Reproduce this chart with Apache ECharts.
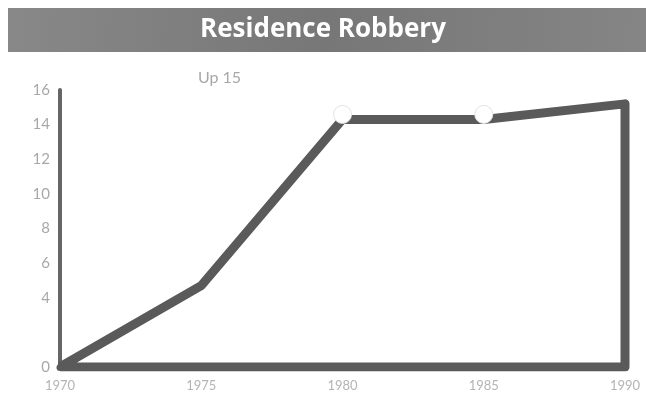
<!DOCTYPE html>
<html>
<head>
<meta charset="utf-8">
<title>Residence Robbery</title>
<script src="https://cdn.jsdelivr.net/npm/echarts@6/dist/echarts.min.js"></script>
<style>
  html, body { margin: 0; padding: 0; background: #fff; }
  #chart { width: 646px; height: 408px; }
</style>
</head>
<body>
<div id="chart"></div>
<script>
const years = [1970, 1975, 1980, 1985, 1990]
const robberies = [0, 4.7, 14.3, 14.3, 15.2]
const yearLabels = ['1970', '1975', '1980', '1985', '1990']
const yTicks = [0, 4, 6, 8, 10, 12, 14, 16] // 2 is not labelled in the original
const markedYears = [1980, 1985]

const lineColor = '#5a5a5a'

// outline: the curve, then down the right edge and back along the bottom
const outline = years.map((y, i) => {
  const point = { value: [y, robberies[i]] }
  if (markedYears.indexOf(y) === -1) {
    point.symbolSize = 0
  }
  return point
})
outline.push({ value: [years[years.length - 1], 0], symbolSize: 0 })
outline.push({ value: [years[0], 0], symbolSize: 0 })

const chart = echarts.init(document.getElementById('chart'))
chart.setOption({
  animation: false,
  graphic: [
    {
      type: 'rect',
      left: 8,
      top: 8,
      shape: { width: 638, height: 44 },
      style: {
        fill: new echarts.graphic.LinearGradient(0, 0, 1, 1, [
          { offset: 0, color: '#888' },
          { offset: 0.5, color: '#777' },
          { offset: 1, color: '#858585' }
        ])
      },
      z: 0
    },
    {
      type: 'text',
      left: 'center',
      top: 17,
      style: {
        text: 'Residence Robbery',
        fill: '#fff',
        font: 'bold 26px "Open Sans"'
      },
      z: 1
    },
    {
      type: 'text',
      left: 198,
      top: 70,
      style: {
        text: 'Up 15',
        fill: '#a8a8a8',
        font: '16px Lato'
      }
    }
  ],
  grid: {
    left: 60,
    right: 21,
    top: 90,
    bottom: 41
  },
  xAxis: {
    type: 'value',
    min: 1970,
    max: 1990,
    interval: 5,
    axisLine: { show: true, lineStyle: { color: lineColor, width: 7 } },
    axisTick: { show: false },
    splitLine: { show: false },
    axisLabel: {
      margin: 12,
      color: '#b4b4b4',
      fontSize: 13,
      fontFamily: 'Lato',
      formatter: v => yearLabels[years.indexOf(v)] || ''
    }
  },
  yAxis: {
    type: 'value',
    min: 0,
    max: 16,
    interval: 2,
    axisLine: { show: true, lineStyle: { color: '#666', width: 4 } },
    axisTick: { show: false },
    splitLine: { show: false },
    axisLabel: {
      margin: 10,
      color: '#a8a8a8',
      fontSize: 15,
      fontFamily: 'Lato',
      formatter: v => (yTicks.indexOf(v) === -1 ? '' : String(v))
    }
  },
  series: [{
    type: 'line',
    data: outline,
    symbol: 'circle',
    symbolSize: 18,
    symbolOffset: [0, -5],
    showSymbol: true,
    itemStyle: {
      color: '#fff',
      borderColor: '#e2e2e2',
      borderWidth: 1
    },
    lineStyle: {
      color: lineColor,
      width: 9,
      join: 'round'
    },
    z: 3
  }]
})
</script>
</body>
</html>
